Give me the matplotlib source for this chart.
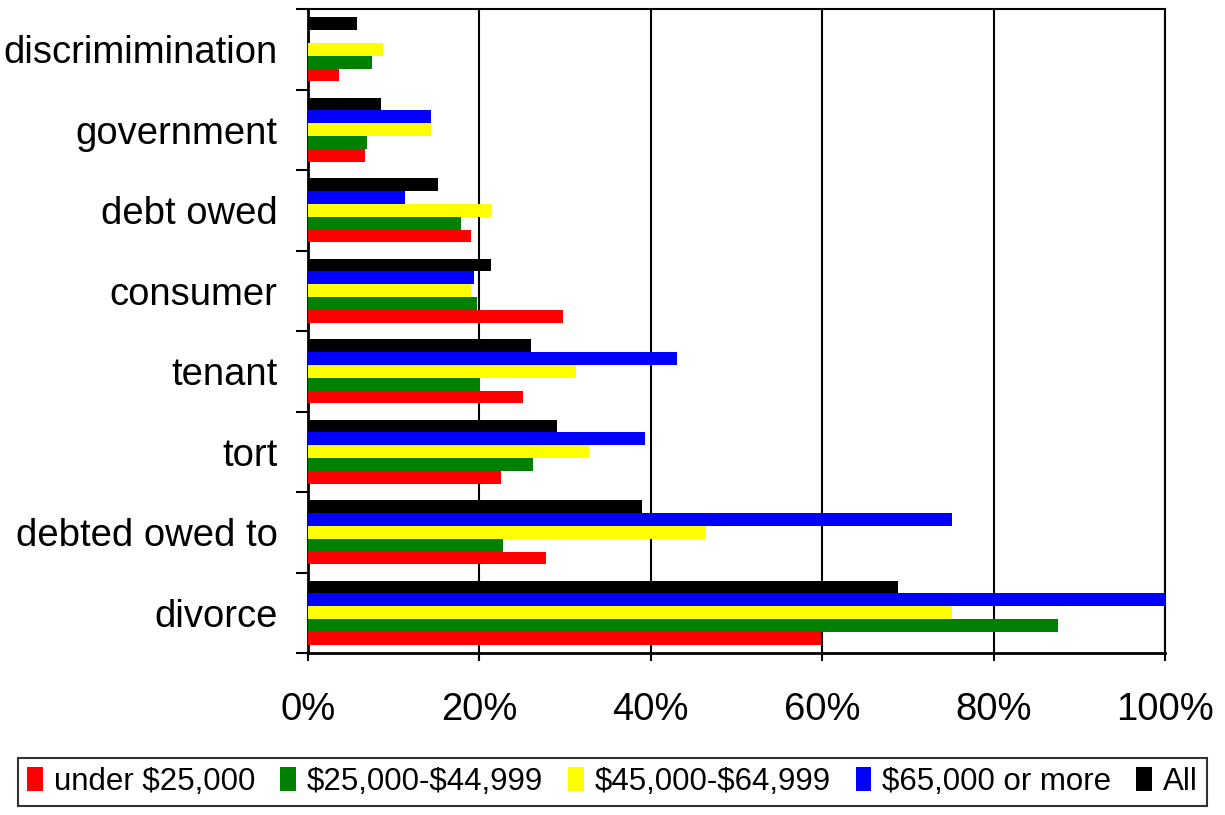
import matplotlib
matplotlib.use("Agg")
import matplotlib.pyplot as plt
from matplotlib.ticker import FixedLocator, PercentFormatter
import numpy as np

plt.rcParams["font.family"] = ["Liberation Sans", "DejaVu Sans"]

# categories, bottom to top
categories = ["divorce", "debted owed to", "tort", "tenant",
              "consumer", "debt owed", "government", "discrimimination"]

series_names = ["under \\$25,000", "\\$25,000-\\$44,999", "\\$45,000-\\$64,999",
                "\\$65,000 or more", "All"]
series_colors = ["#FF0000", "#008000", "#FFFF00", "#0000FF", "#000000"]

under_25k = [59.9, 27.8, 22.5, 25.1, 29.7, 19.0, 6.6, 3.6]
from_25k_to_45k = [87.5, 22.7, 26.2, 20.1, 19.7, 17.8, 6.9, 7.5]
from_45k_to_65k = [75.2, 46.4, 32.8, 31.3, 19.0, 21.5, 14.3, 8.7]
over_65k = [100.0, 75.2, 39.3, 43.0, 19.4, 11.3, 14.3, 0.0]
all_incomes = [68.8, 39.0, 29.0, 26.0, 21.3, 15.2, 8.5, 5.7]

series_values = [under_25k, from_25k_to_45k, from_45k_to_65k, over_65k, all_incomes]

fig = plt.figure(figsize=(12.25, 8.15), dpi=100)
ax = fig.add_axes([308 / 1225, 1 - 653 / 815, 857 / 1225, 644 / 815])

y = np.arange(len(categories))
bar_h = 0.16
for i, (vals, name, col) in enumerate(zip(series_values, series_names, series_colors)):
    offset = (i - 2) * bar_h
    ax.barh(y + offset, vals, height=bar_h, color=col, label=name,
            edgecolor="none", zorder=3)

ax.set_xlim(0, 100)
ax.set_ylim(-0.5, len(categories) - 0.5)

# x axis
ax.xaxis.set_major_locator(FixedLocator([0, 20, 40, 60, 80, 100]))
ax.xaxis.set_major_formatter(PercentFormatter(decimals=0))
ax.tick_params(axis="x", direction="out", length=6, width=1.5, pad=22,
               labelsize=27.5)
ax.grid(axis="x", color="black", linewidth=1.5, zorder=1)

# y axis: labels at centres, tick marks at category boundaries
ax.set_yticks(y)
ax.set_yticklabels(categories)
ax.set_yticks(np.arange(-0.5, len(categories)), minor=True)
ax.tick_params(axis="y", which="major", length=0, pad=22, labelsize=27.5)
ax.tick_params(axis="y", which="minor", length=9, width=1.5, direction="out")

for side in ["left", "bottom"]:
    ax.spines[side].set_linewidth(2)
for side in ["top", "right"]:
    ax.spines[side].set_linewidth(1.5)

leg = fig.legend(loc="lower center", bbox_to_anchor=(0.5, 0.003), ncol=5,
                 fontsize=22.5, frameon=True, fancybox=False,
                 edgecolor="black", handlelength=0.5, handleheight=0.8,
                 handletextpad=0.35, columnspacing=0.8, borderpad=0.3,
                 borderaxespad=0.2)
leg.get_frame().set_linewidth(1.5)

fig.savefig("out.png", dpi=100)
